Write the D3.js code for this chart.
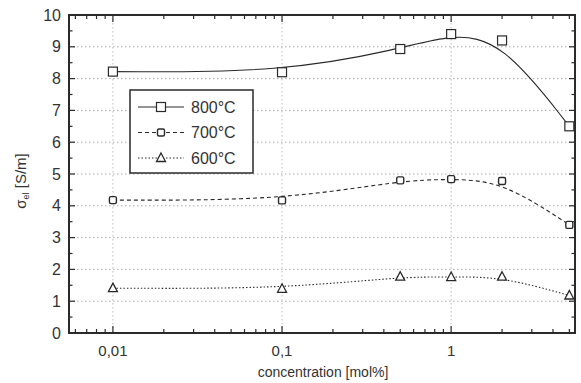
<!DOCTYPE html>
<html>
<head>
<meta charset="utf-8">
<script src="https://cdn.jsdelivr.net/npm/d3@7"></script>
<style>
  body { margin: 0; background: #fff; }
  text { font-family: "Liberation Sans", Arial, sans-serif; fill: #333; }
</style>
</head>
<body>
<svg width="581" height="383"></svg>
<script>
var concentration = [0.01, 0.1, 0.5, 1, 2, 5];
var s800 = [8.22, 8.2, 8.93, 9.4, 9.2, 6.5];
var s700 = [4.18, 4.17, 4.8, 4.84, 4.78, 3.4];
var s600 = [1.41, 1.39, 1.77, 1.76, 1.77, 1.18];
var seriesNames = ["800°C", "700°C", "600°C"];
var xTickValues = [0.01, 0.1, 1];
var xTickLabels = ["0,01", "0,1", "1"];
var yTicks = [0, 1, 2, 3, 4, 5, 6, 7, 8, 9, 10];

(function(){
var svg = d3.select("svg");
var pLeft = 69, pRight = 575, pTop = 15, pBottom = 333;
var ink = "#2a2a2a";

var x = d3.scaleLog().domain([0.0055, 5.4]).range([pLeft, pRight]);
var y = d3.scaleLinear().domain([0, 10]).range([pBottom, pTop]);

// grid
svg.append("g").selectAll("line").data(yTicks.slice(1, 10)).enter().append("line")
  .attr("x1", pLeft).attr("x2", pRight)
  .attr("y1", function(d){ return y(d); }).attr("y2", function(d){ return y(d); })
  .attr("stroke", "#aaa").attr("stroke-width", 1).attr("stroke-dasharray", "1.5,2.5");
svg.append("g").selectAll("line").data(xTickValues).enter().append("line")
  .attr("y1", pTop).attr("y2", pBottom)
  .attr("x1", function(d){ return x(d); }).attr("x2", function(d){ return x(d); })
  .attr("stroke", "#bbb").attr("stroke-width", 1).attr("stroke-dasharray", "1.5,2.5");

// minor x ticks
var minorX = [];
[0.001, 0.01, 0.1, 1].forEach(function(dec){
  for (var k = 2; k <= 9; k++) {
    var v = dec * k;
    if (v > 0.0055 && v < 5.4) minorX.push(v);
  }
});
var minorY = [];
for (var i = 0; i < 10; i++) minorY.push(i + 0.5);

var ticks = svg.append("g").attr("stroke", ink).attr("stroke-width", 1.2);
[pBottom, pTop].forEach(function(edge){
  var dir = edge === pBottom ? -1 : 1;
  ticks.selectAll(null).data(xTickValues).enter().append("line")
    .attr("x1", function(d){ return x(d); }).attr("x2", function(d){ return x(d); })
    .attr("y1", edge).attr("y2", edge + dir * 7);
  ticks.selectAll(null).data(minorX).enter().append("line")
    .attr("x1", function(d){ return x(d); }).attr("x2", function(d){ return x(d); })
    .attr("y1", edge).attr("y2", edge + dir * 4);
});
[pLeft, pRight].forEach(function(edge){
  var dir = edge === pLeft ? 1 : -1;
  ticks.selectAll(null).data(yTicks).enter().append("line")
    .attr("y1", function(d){ return y(d); }).attr("y2", function(d){ return y(d); })
    .attr("x1", edge).attr("x2", edge + dir * 6);
  ticks.selectAll(null).data(minorY).enter().append("line")
    .attr("y1", function(d){ return y(d); }).attr("y2", function(d){ return y(d); })
    .attr("x1", edge).attr("x2", edge + dir * 3.5);
});

// frame
svg.append("rect").attr("x", pLeft).attr("y", pTop)
  .attr("width", pRight - pLeft).attr("height", pBottom - pTop)
  .attr("fill", "none").attr("stroke", ink).attr("stroke-width", 2);

// tick labels
svg.append("g").selectAll("text").data(yTicks).enter().append("text")
  .attr("x", 61).attr("y", function(d){ return y(d) + 5.5; })
  .attr("text-anchor", "end").attr("font-size", 16)
  .text(function(d){ return d; });
svg.append("g").selectAll("text").data(xTickValues).enter().append("text")
  .attr("x", function(d){ return x(d); }).attr("y", 356)
  .attr("text-anchor", "middle").attr("font-size", 15)
  .text(function(d, i){ return xTickLabels[i]; });

// axis titles
svg.append("text").attr("x", 323).attr("y", 377)
  .attr("text-anchor", "middle").attr("font-size", 14)
  .text("concentration [mol%]");
var yl = svg.append("text").attr("transform", "translate(26," + 181 + ") rotate(-90)")
  .attr("text-anchor", "middle").attr("font-size", 15);
yl.append("tspan").text("σ");
yl.append("tspan").attr("font-size", 9).attr("dy", 3).text("el");
yl.append("tspan").attr("dy", -3).text(" [S/m]");

// series
var allSeries = [
  { values: s800, dash: null, marker: "bigsquare" },
  { values: s700, dash: "4,3", marker: "square" },
  { values: s600, dash: "1.5,2", marker: "triangle" }
];

function drawMarker(g, type, cx, cy) {
  if (type === "bigsquare") {
    g.append("rect").attr("x", cx - 4.5).attr("y", cy - 4.5).attr("width", 9).attr("height", 9)
      .attr("fill", "#fff").attr("stroke", ink).attr("stroke-width", 1.2);
  } else if (type === "square") {
    g.append("rect").attr("x", cx - 3.5).attr("y", cy - 3.5).attr("width", 7).attr("height", 7)
      .attr("rx", 1.5).attr("fill", "#fff").attr("stroke", ink).attr("stroke-width", 1.4);
  } else {
    g.append("path").attr("d", "M" + cx + "," + (cy - 5) + "L" + (cx + 4.5) + "," + (cy + 3.5) + "L" + (cx - 4.5) + "," + (cy + 3.5) + "Z")
      .attr("fill", "#fff").attr("stroke", ink).attr("stroke-width", 1.3);
  }
}

var line = d3.line()
  .x(function(d, i){ return x(concentration[i]); })
  .y(function(d){ return y(d); })
  .curve(d3.curveBasis);

allSeries.forEach(function(s){
  svg.append("path").attr("d", line(s.values))
    .attr("fill", "none").attr("stroke", ink).attr("stroke-width", 1.1)
    .attr("stroke-dasharray", s.dash);
  var g = svg.append("g");
  s.values.forEach(function(v, i){
    drawMarker(g, s.marker, x(concentration[i]), y(v));
  });
});

// legend
var lg = svg.append("g");
lg.append("rect").attr("x", 130).attr("y", 90).attr("width", 123).attr("height", 83)
  .attr("fill", "#fff").attr("stroke", ink).attr("stroke-width", 1.5);
allSeries.forEach(function(s, i){
  var ly = 107 + i * 25.5;
  lg.append("line").attr("x1", 138).attr("x2", 184).attr("y1", ly).attr("y2", ly)
    .attr("stroke", ink).attr("stroke-width", 1.1).attr("stroke-dasharray", s.dash);
  drawMarker(lg, s.marker, 161, ly);
  lg.append("text").attr("x", 191).attr("y", ly + 5.5).attr("font-size", 16)
    .text(seriesNames[i]);
});
})();
</script>
</body>
</html>
